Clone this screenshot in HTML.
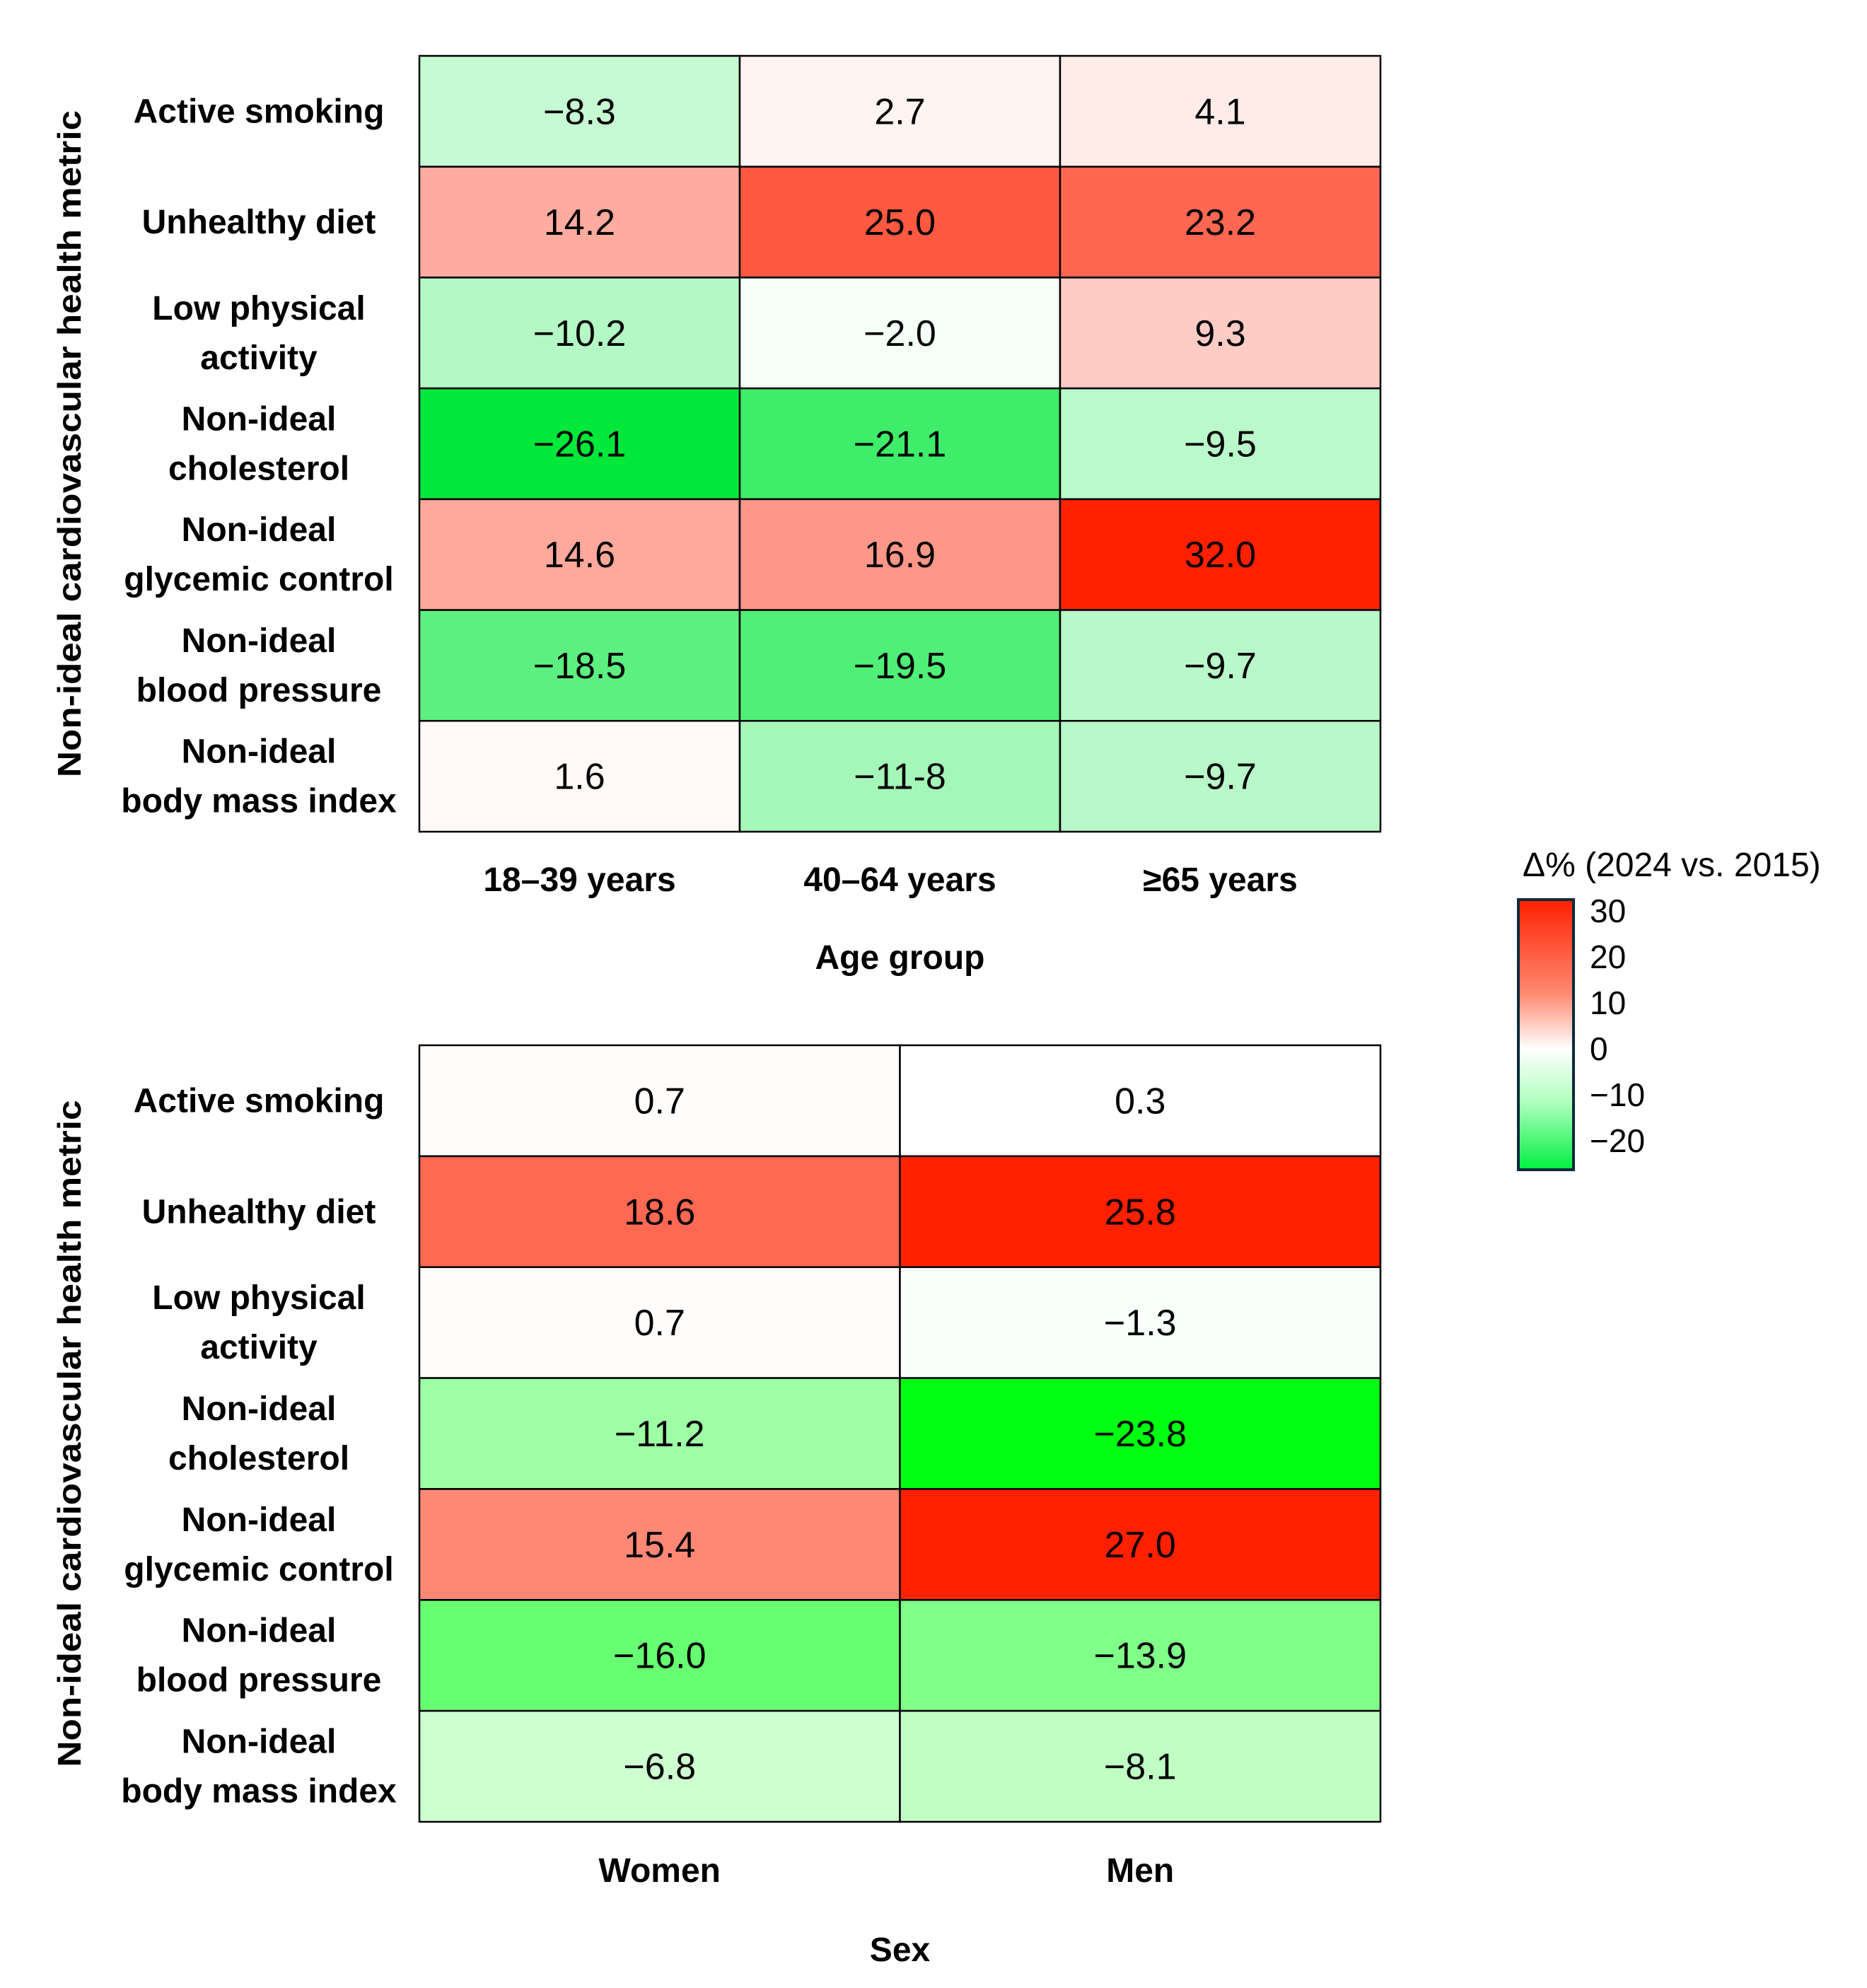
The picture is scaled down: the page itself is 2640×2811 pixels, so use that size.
<!DOCTYPE html>
<html><head><meta charset="utf-8"><style>
html,body{margin:0;padding:0;background:#fff}
svg{display:block}
text{font-family:"Liberation Sans",sans-serif;fill:#000}
</style></head><body>
<svg id="chart" xmlns="http://www.w3.org/2000/svg" width="2640" height="2811" viewBox="0 0 2640 2811">
<defs>
<linearGradient id="cbar" x1="0" y1="0" x2="0" y2="1">
<stop offset="0" stop-color="#ff2000"/>
<stop offset="0.35" stop-color="#ff8a72"/>
<stop offset="0.55" stop-color="#ffffff"/>
<stop offset="0.75" stop-color="#b0ffbe"/>
<stop offset="1" stop-color="#00f040"/>
</linearGradient>
</defs>
<g id="top"></g>
<g id="bottom"></g>
<g>
<text x="2153" y="1239" font-size="48">Δ% (2024 vs. 2015)</text>
<rect x="2147" y="1272" width="78" height="382" fill="url(#cbar)" stroke="#0d2a3a" stroke-width="4"/>
<g id="cticks"></g>
</g>
</svg>
<script>
const metrics = [["Active smoking"],["Unhealthy diet"],["Low physical","activity"],["Non-ideal","cholesterol"],["Non-ideal","glycemic control"],["Non-ideal","blood pressure"],["Non-ideal","body mass index"]];
const ageGroups = ["18–39 years","40–64 years","≥65 years"];
const ageValues = [[-8.3,2.7,4.1],[14.2,25.0,23.2],[-10.2,-2.0,9.3],[-26.1,-21.1,-9.5],[14.6,16.9,32.0],[-18.5,-19.5,-9.7],[1.6,-11.8,-9.7]];
const ageLabels = [["−8.3","2.7","4.1"],["14.2","25.0","23.2"],["−10.2","−2.0","9.3"],["−26.1","−21.1","−9.5"],["14.6","16.9","32.0"],["−18.5","−19.5","−9.7"],["1.6","−11-8","−9.7"]];
const sexGroups = ["Women","Men"];
const sexValues = [[0.7,0.3],[18.6,25.8],[0.7,-1.3],[-11.2,-23.8],[15.4,27.0],[-16.0,-13.9],[-6.8,-8.1]];
const sexLabels = [["0.7","0.3"],["18.6","25.8"],["0.7","−1.3"],["−11.2","−23.8"],["15.4","27.0"],["−16.0","−13.9"],["−6.8","−8.1"]];
const cbarTicks = [30,20,10,0,-10,-20];
const cbarTickLabels = ["30","20","10","0","−10","−20"];

const NS="http://www.w3.org/2000/svg";
function el(tag,attrs,parent){const e=document.createElementNS(NS,tag);for(const k in attrs)e.setAttribute(k,attrs[k]);parent.appendChild(e);return e;}
function makeColor(maxV,minV,green){
  return function(v){
    if(v>=0){const t=Math.pow(Math.min(v/maxV,1),1.2);
      return `rgb(255,${Math.round(255-t*(255-32))},${Math.round(255-t*255)})`;}
    const t=Math.pow(Math.min(v/minV,1),1.3);
    return `rgb(${Math.round(255-t*(255-green[0]))},${Math.round(255-t*(255-green[1]))},${Math.round(255-t*(255-green[2]))})`;
  };
}
function heatmap(g,x0,x1,y0,y1,cols,vals,labs,colTitle,colTitleY,colLabelY,color){
  const cw=(x1-x0)/cols.length, rh=(y1-y0)/metrics.length;
  const xs=i=>x0+i*cw, ys=j=>y0+j*rh;
  vals.forEach((row,j)=>row.forEach((v,i)=>{
    const r=el('rect',{x:xs(i),y:ys(j),width:cw,height:rh,fill:color(v),stroke:'#000','stroke-width':2.5},g);
    
    
    const t=el('text',{x:xs(i)+cw/2,y:ys(j)+rh/2+18,'text-anchor':'middle','font-size':52},g);
    
    
    t.textContent=labs[j][i];
  }));
  metrics.forEach((m,j)=>{
    const cy=ys(j)+rh/2;
    const t=el('text',{x:366,'text-anchor':'middle','font-size':48,'font-weight':'bold'},g);
    
    
    if(m.length===1){t.setAttribute('y',cy+16);t.textContent=m[0];}
    else{m.forEach((line,k)=>{const s=el('tspan',{x:366,y:cy-19+k*70},t);s.textContent=line;});}
  });
  cols.forEach((c,i)=>{
    const t=el('text',{x:xs(i)+cw/2,y:colLabelY,'text-anchor':'middle','font-size':48,'font-weight':'bold'},g);
    
    
    t.textContent=c;
  });
  const xt=el('text',{x:(x0+x1)/2,y:colTitleY,'text-anchor':'middle','font-size':48,'font-weight':'bold'},g);
  
  
  xt.textContent=colTitle;
  const cy=(y0+y1)/2;
  const yt=el('text',{x:0,y:0,transform:`translate(114,${cy}) rotate(-90)`,'text-anchor':'middle','font-size':46,'font-weight':'bold',textLength:943,lengthAdjust:'spacingAndGlyphs'},g);
  
  
  yt.textContent='Non-ideal cardiovascular health metric';
}
heatmap(document.getElementById('top'),593,1952,79,1176,ageGroups,ageValues,ageLabels,'Age group',1370,1260,makeColor(32,-26.1,[0,232,58]));
heatmap(document.getElementById('bottom'),593,1952,1478,2576,sexGroups,sexValues,sexLabels,'Sex',2773,2661,makeColor(25.8,-23.8,[0,255,17]));
const ct=document.getElementById('cticks');
const cy=v=>1287+(30-v)*6.5;
cbarTicks.forEach((v,i)=>{
  const t=el('text',{x:2248,y:cy(v)+17,'font-size':46},ct);
  
  
  t.textContent=cbarTickLabels[i];
});
</script>
</body></html>
